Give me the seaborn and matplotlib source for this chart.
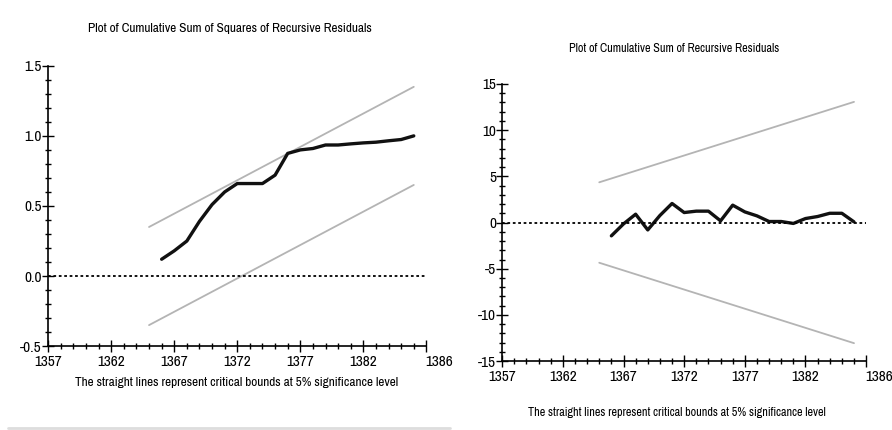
import numpy as np
import pandas as pd
import matplotlib
matplotlib.use("Agg")
import matplotlib.pyplot as plt
import matplotlib.transforms as mtransforms
from matplotlib import font_manager
from matplotlib.lines import Line2D
from matplotlib.ticker import MultipleLocator, FixedLocator
import seaborn as sns

# data
years = list(range(1366, 1387))
cusumsq = [0.12, 0.18, 0.25, 0.39, 0.51, 0.60, 0.66, 0.66, 0.66, 0.72, 0.875,
           0.90, 0.91, 0.935, 0.935, 0.943, 0.95, 0.955, 0.965, 0.974, 1.0]
cusum = [-1.44, -0.15, 0.9, -0.8, 0.76, 2.06, 1.08, 1.23, 1.23, 0.18, 1.88,
         1.15, 0.72, 0.11, 0.11, -0.1, 0.43, 0.65, 1.0, 1.0, 0.07]
bound_years = [1365, 1386]
sq_upper = [0.35, 1.35]
sq_lower = [-0.35, 0.65]
cs_upper = [4.35, 13.05]
cs_lower = [-4.35, -13.05]
xtick_pos = [1357, 1362, 1367, 1372, 1377, 1382, 1387]
xtick_labels = ["1357", "1362", "1367", "1372", "1377", "1382", "1386"]

sns.set_style("white")

narrow = [f.name for f in font_manager.fontManager.ttflist
          if "narrow" in f.name.lower() or "condensed" in f.name.lower()]
if narrow:
    family = [narrow[0], "DejaVu Sans"]
    fs, tfs = 11, 9.5
else:
    family = ["Liberation Sans", "DejaVu Sans"]
    fs, tfs = 8.5, 7.5
plt.rcParams["font.family"] = family
plt.rcParams["text.color"] = "black"
plt.rcParams["xtick.color"] = "black"
plt.rcParams["ytick.color"] = "black"

fig = plt.figure(figsize=(8.92, 4.30), dpi=100)
axL = fig.add_axes([0.054, 0.195, 0.424, 0.652])
axR = fig.add_axes([0.563, 0.160, 0.408, 0.645])


def style_axis(ax, ymin, ymax, ymaj, ymin_step, ylabels):
    ax.set_xlim(1357, 1387)
    ax.set_ylim(ymin, ymax)
    for s in ["top", "right"]:
        ax.spines[s].set_visible(False)
    for s in ["left", "bottom"]:
        ax.spines[s].set_color("black")
        ax.spines[s].set_linewidth(1.2)
    ax.xaxis.set_major_locator(FixedLocator(xtick_pos))
    ax.set_xticklabels(xtick_labels)
    ax.xaxis.set_minor_locator(MultipleLocator(1))
    yt = np.arange(ymin, ymax + 1e-9, ymaj)
    ax.set_yticks(yt)
    ax.set_yticklabels(ylabels)
    ax.yaxis.set_minor_locator(MultipleLocator(ymin_step))
    ax.tick_params(which="major", direction="inout", length=9, width=1,
                   color="black", labelsize=fs, pad=2, left=True, bottom=True)
    ax.tick_params(which="minor", direction="inout", length=5, width=1,
                   color="black", left=True, bottom=True)
    ax.tick_params(axis="y", which="major", pad=0)
    # last label sits right of the axis end
    lab = ax.get_xticklabels()[-1]
    lab.set_transform(lab.get_transform() + mtransforms.ScaledTranslation(
        13 / 100, 0, fig.dpi_scale_trans))
    ax.set_xlabel("")
    ax.set_ylabel("")
    ax.axhline(0, color="black", lw=1.3, ls=(0, (1.5, 1.5)))


# left: CUSUM of squares
sns.lineplot(x=bound_years, y=sq_upper, ax=axL, color="#b4b4b4", lw=1.3)
sns.lineplot(x=bound_years, y=sq_lower, ax=axL, color="#b4b4b4", lw=1.3)
sns.lineplot(x=years, y=cusumsq, ax=axL, color="#111111", lw=2.4)
style_axis(axL, -0.5, 1.5, 0.5, 0.1, ["-0.5", "0.0", "0.5", "1.0", "1.5"])

# right: CUSUM
sns.lineplot(x=bound_years, y=cs_upper, ax=axR, color="#b4b4b4", lw=1.3)
sns.lineplot(x=bound_years, y=cs_lower, ax=axR, color="#b4b4b4", lw=1.3)
sns.lineplot(x=years, y=cusum, ax=axR, color="#111111", lw=2.4)
style_axis(axR, -15, 15, 5, 1, ["-15", "-10", "-5", "0", "5", "10", "15"])

fig.text(230 / 892, 1 - 28 / 430, "Plot of Cumulative Sum of Squares of Recursive Residuals",
         ha="center", va="center", fontsize=tfs)
fig.text(674 / 892, 1 - 48 / 430, "Plot of Cumulative Sum of Recursive Residuals",
         ha="center", va="center", fontsize=tfs * 0.92)
fig.text(237 / 892, 1 - 382 / 430, "The straight lines represent critical bounds at 5% significance level",
         ha="center", va="center", fontsize=tfs)
fig.text(677 / 892, 1 - 412 / 430, "The straight lines represent critical bounds at 5% significance level",
         ha="center", va="center", fontsize=tfs * 0.92)

fig.add_artist(Line2D([8 / 892, 450 / 892], [1 - 428 / 430] * 2,
                      transform=fig.transFigure, color="#dddddd", lw=2))

fig.savefig("out.png", dpi=100, facecolor="white")
